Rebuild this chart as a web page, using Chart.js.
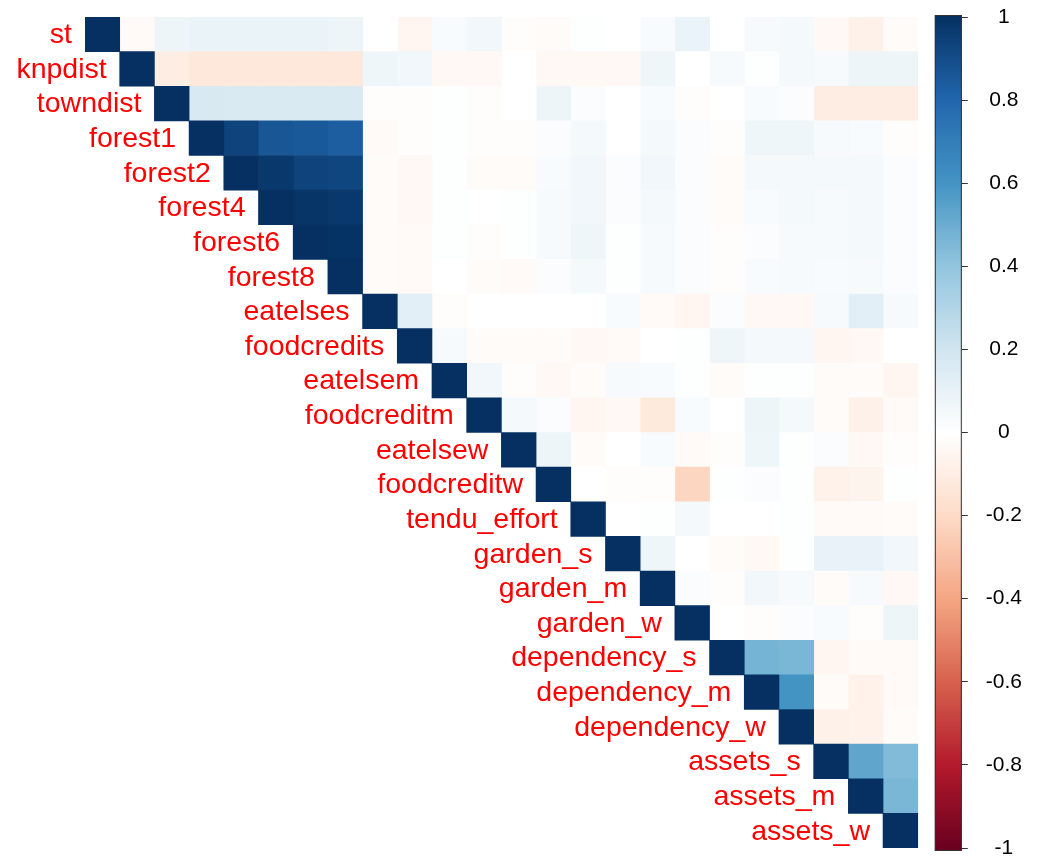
<!DOCTYPE html>
<html>
<head>
<meta charset="utf-8">
<script src="https://cdn.jsdelivr.net/npm/chart.js@4/dist/chart.umd.min.js"></script>
<style>
  html, body { margin: 0; background: #fff; }
  #wrap { width: 1040px; height: 865px; }
</style>
</head>
<body>
<div id="wrap"><canvas id="corrChart"></canvas></div>
<script>
const variables = ['st','knpdist','towndist','forest1','forest2','forest4','forest6','forest8',
  'eatelses','foodcredits','eatelsem','foodcreditm','eatelsew','foodcreditw','tendu_effort',
  'garden_s','garden_m','garden_w','dependency_s','dependency_m','dependency_w',
  'assets_s','assets_m','assets_w'];

// upper triangle, each row starts at its diagonal
const r_st           = [1, -0.03, 0.08, 0.09, 0.09, 0.09, 0.09, 0.08, 0.0, -0.05, 0.03, 0.06, -0.01, -0.02, 0.01, 0.0, 0.03, 0.09, 0.0, 0.04, 0.05, -0.04, -0.08, -0.02];
const r_knpdist      = [1, -0.1, -0.13, -0.13, -0.13, -0.13, -0.13, 0.07, 0.06, -0.04, -0.04, 0.0, -0.04, -0.04, -0.04, 0.07, 0.0, 0.04, 0.01, 0.05, 0.04, 0.08, 0.08];
const r_towndist     = [1, 0.17, 0.16, 0.16, 0.16, 0.16, -0.01, -0.01, 0.01, -0.01, 0.0, 0.08, 0.02, 0.0, 0.03, -0.01, 0.0, 0.03, 0.02, -0.1, -0.1, -0.1];
const r_forest1      = [1, 0.93, 0.86, 0.85, 0.83, -0.03, -0.01, 0.01, -0.01, -0.01, 0.02, 0.05, 0.0, 0.05, 0.02, -0.01, 0.07, 0.07, 0.04, 0.03, -0.01];
const r_forest2      = [1, 0.97, 0.93, 0.92, -0.02, -0.04, 0.01, -0.02, -0.02, 0.03, 0.06, 0.02, 0.06, 0.02, -0.02, 0.05, 0.05, 0.05, 0.05, 0.02];
const r_forest4      = [1, 0.98, 0.97, -0.02, -0.04, 0.01, 0.0, 0.01, 0.04, 0.06, 0.02, 0.05, 0.02, -0.02, 0.03, 0.05, 0.04, 0.05, 0.02];
const r_forest6      = [1, 0.99, -0.02, -0.03, 0.01, -0.01, 0.01, 0.04, 0.07, 0.01, 0.04, 0.02, -0.01, 0.02, 0.04, 0.04, 0.05, 0.02];
const r_forest8      = [1, -0.02, -0.03, 0.0, -0.02, -0.03, 0.02, 0.05, 0.01, 0.04, 0.02, -0.01, 0.03, 0.04, 0.03, 0.04, 0.02];
const r_eatelses     = [1, 0.12, -0.01, 0.0, 0.0, 0.0, 0.0, 0.03, -0.03, -0.05, 0.02, -0.04, -0.04, 0.04, 0.12, 0.04];
const r_foodcredits  = [1, 0.04, -0.02, -0.02, -0.02, -0.04, -0.03, 0.0, 0.01, 0.07, 0.05, 0.05, -0.05, -0.04, 0.0];
const r_eatelsem     = [1, 0.06, -0.01, -0.04, -0.02, 0.04, 0.03, 0.01, -0.02, 0.01, 0.01, -0.02, -0.02, -0.05];
const r_foodcreditm  = [1, 0.05, 0.02, -0.05, -0.04, -0.12, 0.03, 0.0, 0.08, 0.05, -0.02, -0.08, -0.03];
const r_eatelsew     = [1, 0.08, -0.02, 0.0, 0.03, -0.03, -0.01, 0.07, 0.01, 0.02, -0.04, -0.01];
const r_foodcreditw  = [1, 0.0, -0.01, -0.01, -0.22, 0.01, 0.02, 0.01, -0.07, -0.06, 0.01];
const r_tendu_effort = [1, 0.0, 0.01, 0.05, 0.0, 0.0, 0.01, -0.03, -0.03, -0.02];
const r_garden_s     = [1, 0.07, 0.0, -0.02, -0.04, 0.01, 0.1, 0.1, 0.06];
const r_garden_m     = [1, 0.02, -0.01, 0.06, 0.04, -0.02, 0.04, -0.04];
const r_garden_w     = [1, 0.0, -0.01, 0.02, 0.03, -0.01, 0.08];
const r_dependency_s = [1, 0.47, 0.46, -0.05, -0.03, -0.03];
const r_dependency_m = [1, 0.6, -0.02, -0.07, -0.03];
const r_dependency_w = [1, -0.08, -0.07, -0.02];
const r_assets_s     = [1, 0.53, 0.44];
const r_assets_m     = [1, 0.46];
const r_assets_w     = [1];

const upper = [r_st, r_knpdist, r_towndist, r_forest1, r_forest2, r_forest4, r_forest6, r_forest8,
  r_eatelses, r_foodcredits, r_eatelsem, r_foodcreditm, r_eatelsew, r_foodcreditw, r_tendu_effort,
  r_garden_s, r_garden_m, r_garden_w, r_dependency_s, r_dependency_m, r_dependency_w,
  r_assets_s, r_assets_m, r_assets_w];

const colorbarTicks = [1, 0.8, 0.6, 0.4, 0.2, 0, -0.2, -0.4, -0.6, -0.8, -1];

// RdBu, -1 .. 1
const palette = ['#67001F','#B2182B','#D6604D','#F4A582','#FDDBC7','#FFFFFF',
                 '#D1E5F0','#92C5DE','#4393C3','#2166AC','#053061'];

function hexRgb(h) {
  return [1, 3, 5].map(k => parseInt(h.slice(k, k + 2), 16));
}

function corrColor(v) {
  if (typeof v !== 'number') return 'rgba(0,0,0,0)';
  const t = (Math.max(-1, Math.min(1, v)) + 1) / 2 * (palette.length - 1);
  const i = Math.min(Math.floor(t), palette.length - 2);
  const f = t - i;
  const a = hexRgb(palette[i]), b = hexRgb(palette[i + 1]);
  const c = a.map((x, k) => Math.round(x + (b[k] - x) * f));
  return `rgb(${c[0]},${c[1]},${c[2]})`;
}

function cellValue(i, j) {
  if (i === undefined || j < i) return undefined;
  return upper[i][j - i];
}

const datasets = variables.map((name, j) => ({
  label: name,
  data: variables.map((_, i) => i <= j ? [j, j + 1] : null),
  backgroundColor: ctx => corrColor(cellValue(ctx.dataIndex, ctx.datasetIndex)),
  borderWidth: 0,
  grouped: false,
  barPercentage: 1,
  categoryPercentage: 1
}));

const diagLabels = {
  id: 'diagLabels',
  afterDatasetsDraw(chart) {
    const { ctx, scales: { x, y } } = chart;
    ctx.save();
    ctx.font = '28.5px "Liberation Sans", Arial, sans-serif';
    ctx.fillStyle = '#FF0000';
    ctx.textAlign = 'right';
    ctx.textBaseline = 'middle';
    variables.forEach((name, i) => {
      ctx.fillText(name, x.getPixelForValue(i) - 13, y.getPixelForValue(i) + 1);
    });
    ctx.restore();
  }
};

const colorbar = {
  id: 'colorbar',
  beforeDatasetsDraw(chart) {
    const { ctx, chartArea, scales: { cb } } = chart;
    const right = chartArea.right, left = right - 27;
    const top = cb.getPixelForValue(1) - 2, bottom = cb.getPixelForValue(-1) + 3;
    const grad = ctx.createLinearGradient(0, bottom, 0, top);
    palette.forEach((c, k) => grad.addColorStop(k / (palette.length - 1), c));
    ctx.save();
    ctx.fillStyle = grad;
    ctx.fillRect(left, top, right - left, bottom - top);
    ctx.strokeStyle = '#333';
    ctx.lineWidth = 1;
    ctx.strokeRect(left + 0.5, top + 0.5, right - left - 1, bottom - top - 1);
    ctx.restore();
  }
};

new Chart(document.getElementById('corrChart'), {
  type: 'bar',
  data: { labels: variables, datasets },
  options: {
    indexAxis: 'y',
    responsive: true,
    maintainAspectRatio: false,
    animation: false,
    layout: { padding: { left: 85, top: 17, bottom: 17, right: 0 } },
    plugins: { legend: { display: false }, tooltip: { enabled: false } },
    scales: {
      x: { type: 'linear', min: 0, max: 25.27, display: false },
      y: { type: 'category', display: false, offset: true },
      cb: {
        axis: 'y',
        type: 'linear',
        position: 'right',
        min: -1, max: 1,
        offset: false,
        afterBuildTicks: s => { s.ticks = colorbarTicks.map(v => ({ value: v })); },
        afterFit: s => { s.paddingTop = 0; s.paddingBottom = 0; },
        ticks: {
          color: '#000',
          font: { size: 21, family: '"Liberation Sans", Arial, sans-serif' },
          padding: 18,
          crossAlign: 'center',
          callback: v => String(Math.round(v * 10) / 10)
        },
        grid: { drawOnChartArea: false, offset: false, tickLength: 6, color: '#333' },
        border: { display: false }
      }
    }
  },
  plugins: [colorbar, diagLabels]
});
</script>
</body>
</html>
